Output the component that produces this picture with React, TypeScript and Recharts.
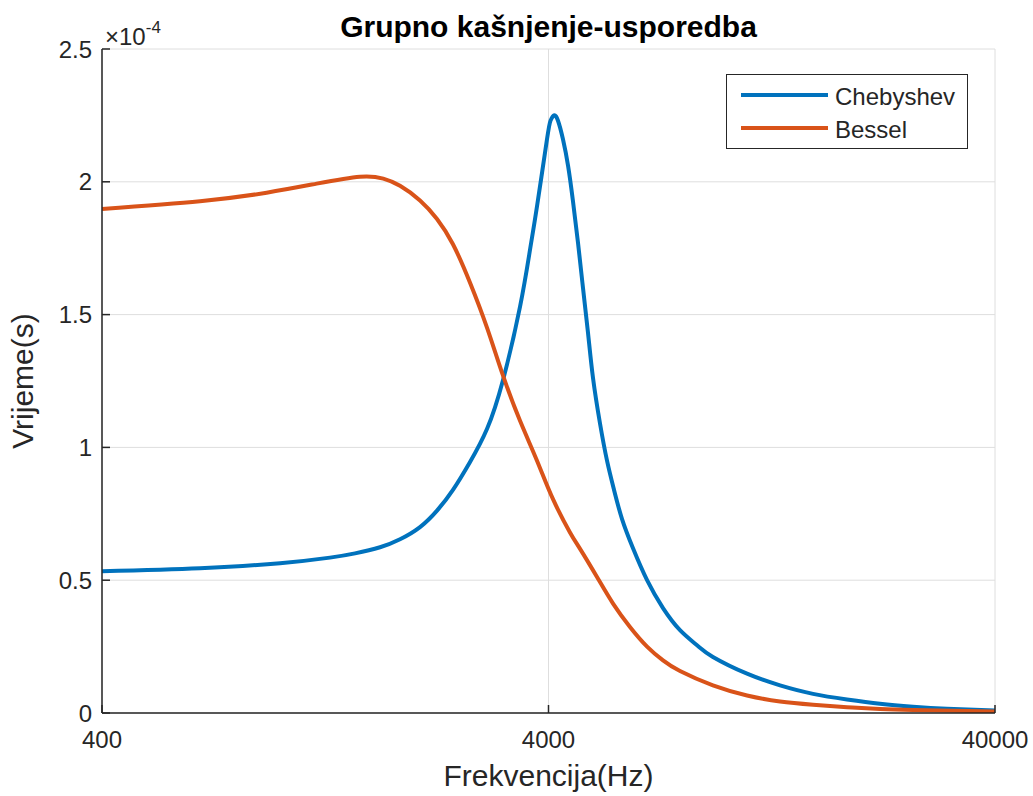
import { CartesianGrid, Legend, Line, LineChart, XAxis, YAxis } from "recharts";

const FONT = "'Liberation Sans', Arial, Helvetica, sans-serif";
const BLUE = "#0072BD";
const ORANGE = "#D95319";
const AXIS = "#262626";

const seriesNames = ["Chebyshev", "Bessel"];
const xTicks = [400, 4000, 40000];
const yTicks = [0, 0.5, 1, 1.5, 2, 2.5];

// group delay, in units of 1e-4 s
const chebyshevFreq = [
  400, 663, 1002, 1296, 1475, 1678, 1860, 2062, 2251, 2444, 2669, 2914, 3164,
  3454, 3637, 3770, 3969, 4041, 4115, 4201, 4310, 4425, 4536, 4658, 4779, 4905,
  5033, 5217, 5409, 5608, 5845, 6185, 6650, 7220, 7881, 8605, 9339, 11136,
  13201, 15652, 18644, 22108, 26209, 31225, 40000,
];
const chebyshevDelay = [
  0.534, 0.545, 0.564, 0.585, 0.601, 0.624, 0.654, 0.7, 0.762, 0.84, 0.945,
  1.07, 1.254, 1.53, 1.745, 1.908, 2.16, 2.23, 2.25, 2.23, 2.16, 2.06, 1.93,
  1.77, 1.6, 1.43, 1.26, 1.09, 0.95, 0.84, 0.73, 0.62, 0.5, 0.395, 0.312,
  0.255, 0.211, 0.148, 0.104, 0.072, 0.051, 0.035, 0.024, 0.016, 0.009,
];

const besselFreq = [
  400, 663, 935, 1210, 1513, 1706, 1860, 2062, 2251, 2444, 2669, 2914, 3164,
  3454, 3770, 4094, 4469, 4707, 5137, 5580, 6089, 6650, 7220, 7881, 9339,
  11136, 13201, 15652, 18644, 22108, 26209, 40000,
];
const besselDelay = [
  1.898, 1.927, 1.959, 1.993, 2.019, 2.012, 1.985, 1.93, 1.86, 1.765, 1.62,
  1.45, 1.27, 1.1, 0.95, 0.805, 0.68, 0.618, 0.512, 0.412, 0.324, 0.25, 0.198,
  0.158, 0.104, 0.066, 0.043, 0.031, 0.022, 0.015, 0.011, 0.006,
];

const chebyshevData = chebyshevFreq.map((f, i) => ({ freq: f, delay: chebyshevDelay[i] }));
const besselData = besselFreq.map((f, i) => ({ freq: f, delay: besselDelay[i] }));

const tickStyle = { fontSize: 24, fill: AXIS, fontFamily: FONT };

const YTitle = ({ viewBox }: any) => {
  const { x, y, width, height } = viewBox;
  const cy = y + height / 2;
  return (
    <g fontFamily={FONT} fill={AXIS}>
      <text
        x={x + 33}
        y={cy}
        transform={`rotate(-90, ${x + 33}, ${cy})`}
        textAnchor="middle"
        fontSize={30}
      >
        Vrijeme(s)
      </text>
      <text x={x + width + 3} y={y - 4} fontSize={24}>
        ×10
        <tspan dy={-12} fontSize={17}>
          -4
        </tspan>
      </text>
    </g>
  );
};

const LegendBox = ({ payload }: any) => {
  const items = [...(payload || [])].sort(
    (a: any, b: any) => seriesNames.indexOf(a.value) - seriesNames.indexOf(b.value)
  );
  return (
    <svg width={242} height={75} style={{ display: "block" }}>
      <rect x={0.5} y={0.5} width={241} height={74} fill="#fff" stroke={AXIS} />
      {items.map((p: any, i: number) => (
        <g key={p.value}>
          <line x1={15} x2={102} y1={21 + i * 33} y2={21 + i * 33} stroke={p.color} strokeWidth={4} />
          <text x={109} y={31 + i * 33} fontSize={24} fontFamily={FONT} fill={AXIS}>
            {p.value}
          </text>
        </g>
      ))}
    </svg>
  );
};

export default function App() {
  return (
    <div style={{ position: "absolute", left: 0, top: 0, background: "#fff" }}>
      <LineChart
        width={1033}
        height={796}
        margin={{ top: 49, right: 38, left: 0, bottom: 0 }}
      >
        <CartesianGrid stroke="#dedede" strokeWidth={1} />
        <XAxis
          dataKey="freq"
          type="number"
          scale="log"
          domain={[400, 40000]}
          ticks={xTicks}
          allowDataOverflow
          height={83}
          stroke={AXIS}
          strokeWidth={1.5}
          tickSize={-8}
          tickMargin={26}
          tick={tickStyle}
          label={{
            value: "Frekvencija(Hz)",
            position: "insideBottom",
            offset: 10,
            fontSize: 30,
            fill: AXIS,
            fontFamily: FONT,
          }}
        />
        <XAxis
          xAxisId="top"
          orientation="top"
          dataKey="freq"
          type="number"
          scale="log"
          domain={[400, 40000]}
          ticks={xTicks}
          allowDataOverflow
          height={0}
          stroke={AXIS}
          strokeWidth={1.5}
          tickSize={-8}
          tick={false}
        />
        <YAxis
          type="number"
          domain={[0, 2.5]}
          ticks={yTicks}
          allowDataOverflow
          width={102}
          stroke={AXIS}
          strokeWidth={1.5}
          tickSize={-8}
          tickMargin={18}
          tick={tickStyle}
          label={<YTitle />}
        />
        <YAxis
          yAxisId="right"
          orientation="right"
          type="number"
          domain={[0, 2.5]}
          ticks={yTicks}
          allowDataOverflow
          width={0}
          stroke={AXIS}
          strokeWidth={1.5}
          tickSize={-8}
          tick={false}
        />
        <Legend
          layout="horizontal"
          verticalAlign="middle"
          align="center"
          content={<LegendBox />}
          wrapperStyle={{ left: 726, top: 74, width: 242, height: 75 }}
        />
        <Line
          data={chebyshevData}
          dataKey="delay"
          name="Chebyshev"
          type="natural"
          stroke={BLUE}
          strokeWidth={4}
          dot={false}
          isAnimationActive={false}
        />
        <Line
          data={besselData}
          dataKey="delay"
          name="Bessel"
          type="natural"
          stroke={ORANGE}
          strokeWidth={4}
          dot={false}
          isAnimationActive={false}
        />
        <text
          x={548.5}
          y={37}
          textAnchor="middle"
          fontSize={30}
          fontWeight="bold"
          fontFamily={FONT}
          fill="#000"
        >
          Grupno kašnjenje-usporedba
        </text>
      </LineChart>
    </div>
  );
}
